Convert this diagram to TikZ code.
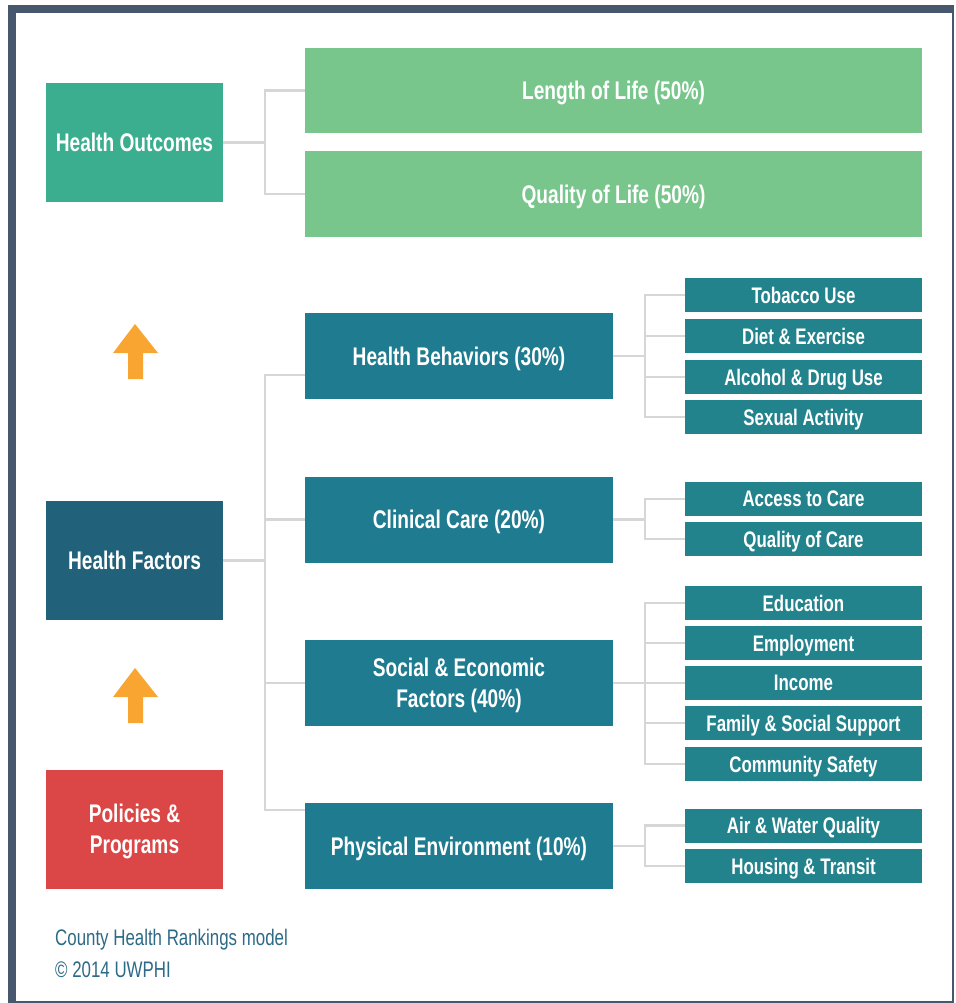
\documentclass[tikz,border=0pt]{standalone}
\usepackage{fontspec}
\usepackage{xcolor}
\usepackage{tikz}
\usetikzlibrary{calc,positioning}
\newfontfamily\gothic[FakeStretch=0.75]{Liberation Sans}

\definecolor{cadre}{HTML}{46576E}
\definecolor{vertfonce}{HTML}{3BAE8F}
\definecolor{vertclair}{HTML}{79C68D}
\definecolor{bleufonce}{HTML}{21627A}
\definecolor{bleucat}{HTML}{1F7B90}
\definecolor{bleusous}{HTML}{22838D}
\definecolor{rouge}{HTML}{DB4646}
\definecolor{orange}{HTML}{F9A532}
\definecolor{lien}{HTML}{D6D6D6}
\definecolor{legende}{HTML}{2D6A88}

\tikzset{
	boite/.style={inner sep=0pt, text=white, align=center, text depth=0pt,
		font=\gothic\bfseries\fontsize{25.5}{31}\selectfont},
	gauche/.style={boite, minimum width=177, minimum height=119},
	vie/.style={boite, fill=vertclair, minimum width=617, minimum height=85},
	categorie/.style={boite, fill=bleucat, minimum width=308, minimum height=86},
	sousboite/.style={boite, fill=bleusous, minimum width=237, minimum height=34,
		font=\gothic\bfseries\fontsize{22.5}{26}\selectfont},
	lien/.style={draw=lien, line width=2.4pt},
	fleche/.style={fill=orange},
	note/.style={anchor=base west, inner sep=0pt, text=legende,
		font=\gothic\fontsize{22.5}{26}\selectfont}
}

\begin{document}
\begin{tikzpicture}[x=1pt,y=-1pt]
	\useasboundingbox (0,0) rectangle (955,1003);
	\fill[cadre] (8,5) rectangle (954,1003);
	\fill[white] (16,13) rectangle (951.5,1000.5);

	% colonne de gauche
	\node[gauche, fill=vertfonce] (ho) at (134.5,142.5) {Health Outcomes};
	\node[gauche, fill=bleufonce] (hf) at (134.5,560.5) {Health Factors};
	\node[gauche, fill=rouge] (pp) at (134.5,829) {Policies \&\\Programs};
	\foreach \dy in {0,344}
		{\fill[fleche, shift={(0,\dy)}] (135,324) -- (158,353) -- (143,353)
			-- (143,379) -- (128,379) -- (128,353) -- (113,353) -- cycle;}

	% resultats
	\node[vie] (lol) at (613.5,90.5) {Length of Life (50\%)};
	\node[vie] (qol) at (613.5,194) {Quality of Life (50\%)};

	% facteurs
	\node[categorie] (hb) at (459,356) {Health Behaviors (30\%)};
	\node[categorie] (cc) at (459,519.5) {Clinical Care (20\%)};
	\node[categorie] (se) at (459,683) {Social \& Economic\\Factors (40\%)};
	\node[categorie] (pe) at (459,846) {Physical Environment (10\%)};

	\foreach \nom/\texte/\y in
	{tob/Tobacco Use/295,
	diet/Diet \& Exercise/336,
	alc/Alcohol \& Drug Use/377,
	sex/Sexual Activity/417,
	acc/Access to Care/499,
	qoc/Quality of Care/539,
	edu/Education/603,
	emp/Employment/643,
	inc/Income/683,
	fam/Family \& Social Support/723,
	com/Community Safety/764,
	air/Air \& Water Quality/825.5,
	hou/Housing \& Transit/866}
		{\node[sousboite] (\nom) at (803.5,\y) {\texte};}

	% liens
	\foreach \nom in {lol,qol}
		{\draw[lien] (\nom.west) -- ++(-40,0) |- (ho.east);}
	\draw[lien] ([yshift=-19pt]hb.west) -- ++(-40,0) |- (hf.east);
	\draw[lien] ([yshift=36pt]pe.west) -- ++(-40,0) |- (hf.east);
	\foreach \nom in {cc,se}
		{\draw[lien] (\nom.west) -- ++(-40,0);}
	\foreach \nom/\parent in
	{tob/hb, diet/hb, alc/hb, sex/hb, acc/cc, qoc/cc,
	edu/se, emp/se, inc/se, fam/se, com/se, air/pe, hou/pe}
		{\draw[lien] (\nom.west) -- ++(-40,0) |- (\parent.east);}

	% legende
	\node[note] (modele) at (55,945) {County Health Rankings model};
	\node[note] (droits) at (55,977) {\textcopyright{} 2014 UWPHI};
\end{tikzpicture}
\end{document}
